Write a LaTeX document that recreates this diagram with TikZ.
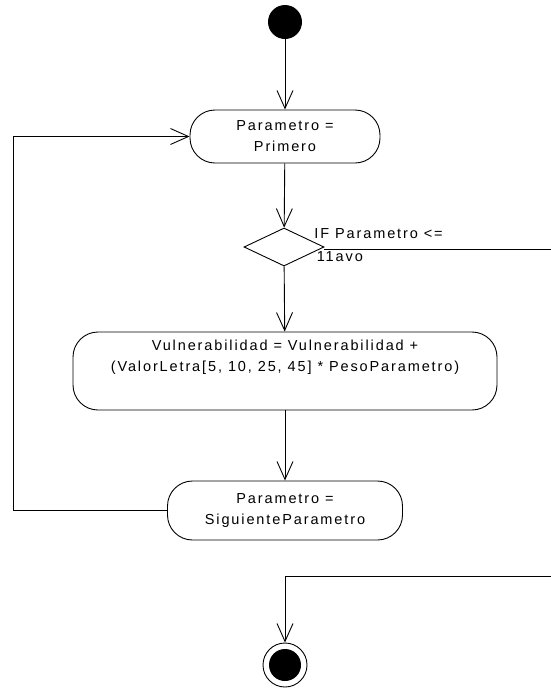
\documentclass[tikz,border=0pt]{standalone}
\usepackage{fontspec}
\setmainfont{Liberation Sans}[LetterSpace=13]
\usepackage{tikz}
\usetikzlibrary{arrows.meta,positioning,shapes.geometric}

\begin{document}
\begin{tikzpicture}[x=1pt,y=-1pt,line width=0.9pt,
  font=\fontsize{14.5}{21}\selectfont,
  act/.style={draw,rounded corners=25pt,align=center,inner sep=0pt},
  flow/.style={-{Straight Barb[length=18pt,width=16pt,line width=0.9pt]}}]
  \useasboundingbox (0,0) rectangle (551,689);
  % start and end points
  \node[circle,fill=black,minimum size=34pt,inner sep=0pt] (ini) at (285,22) {};
  \node[circle,draw,minimum size=44pt,inner sep=0pt] (fin) at (285,665) {};
  \node[circle,fill=black,minimum size=32pt,inner sep=0pt] (finin) at (fin) {};
  % activities
  \node[act,minimum width=190pt,minimum height=53pt] (prim) at (285,136.5) {Parametro =\\Primero};
  \node[diamond,draw,minimum width=80pt,minimum height=38pt,inner sep=0pt] (cond) at (284,247) {};
  \node[anchor=west,align=left,inner sep=0pt,
        font=\fontsize{14.5}{23}\selectfont] (condtxt) at (314,245) {IF Parametro <=\\\,11avo};
  \node[act,minimum width=424pt,minimum height=78pt] (vuln) at (285,371)
    {Vulnerabilidad = Vulnerabilidad +\\(ValorLetra[5, 10, 25, 45] * PesoParametro)\\[10pt]\mbox{}};
  \node[act,minimum width=235pt,minimum height=59pt] (sig) at (285,510.5) {Parametro =\\SiguienteParametro};
  % loop and exit corners
  \coordinate (back) at (13,136.5);
  \coordinate (out) at (554,576);
  % transitions
  \draw[flow] (ini) -- (prim);
  \draw[flow] (prim) -- (cond);
  \draw[flow] (cond) -- (vuln);
  \draw[flow] (vuln) -- (sig);
  \draw[flow] (sig.west) -| (back) -- (prim.west);
  \draw[flow] ([yshift=-2pt]cond.east) -| (out) -| (fin);
\end{tikzpicture}
\end{document}
